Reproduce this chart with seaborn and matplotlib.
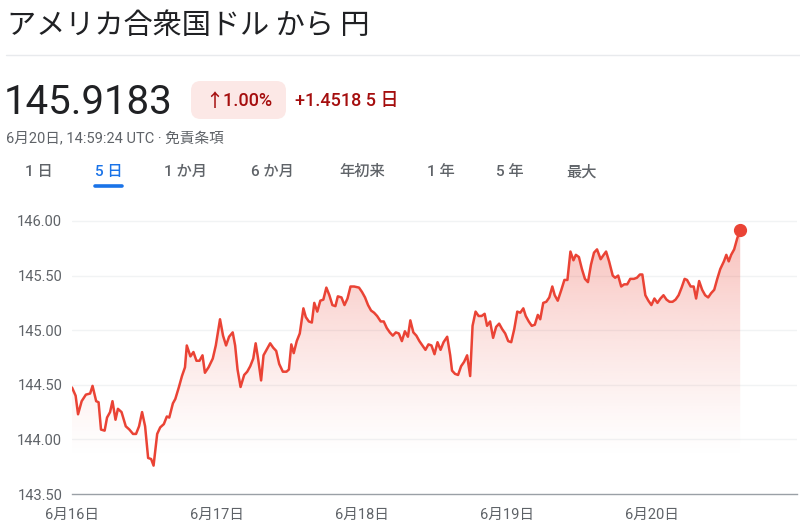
import numpy as np
import pandas as pd
import matplotlib
matplotlib.use("Agg")
import matplotlib.pyplot as plt
import seaborn as sns
from matplotlib.patches import FancyBboxPatch, PathPatch
from matplotlib.lines import Line2D

# hours since 6/16 00:00 and USD/JPY rate
hours = [0.0, 0.6, 1.0, 1.6, 2.3, 3.0, 3.4, 4.0, 4.4, 4.8, 5.4, 5.8, 6.3, 6.7, 7.2,
         7.6, 8.2, 8.9, 9.5, 10.1, 10.6, 11.1, 11.6, 12.1, 12.6, 13.1, 13.5, 14.1,
         14.6, 15.2, 15.7, 16.1, 16.7, 17.1, 17.7, 18.2, 18.7, 19.0, 19.6, 20.1,
         20.6, 21.1, 21.6, 22.0, 22.6, 23.3, 23.8, 24.5, 25.0, 25.5, 26.0, 26.6,
         27.0, 27.4, 27.9, 28.5, 29.0, 29.5, 30.0, 30.4, 30.8, 31.3, 31.7, 32.3,
         32.8, 33.3, 33.8, 34.3, 34.9, 35.5, 35.9, 36.3, 36.7, 37.2, 37.7, 38.3,
         38.7, 39.2, 39.7, 40.1, 40.6, 41.1, 41.6, 42.1, 42.6, 43.1, 43.6, 44.0,
         44.6, 45.1, 45.6, 46.1, 46.7, 47.5, 48.0, 48.5, 49.0, 49.5, 50.0, 50.5,
         51.1, 51.6, 52.1, 52.6, 53.1, 53.6, 54.1, 54.6, 55.1, 55.6, 56.0, 56.5,
         57.0, 57.5, 58.0, 58.5, 59.0, 59.5, 60.0, 60.5, 61.0, 61.5, 62.1, 62.6,
         62.9, 63.4, 63.9, 64.4, 64.9, 65.4, 65.9, 66.3, 66.8, 67.3, 67.8, 68.3,
         68.7, 69.2, 69.7, 70.2, 70.7, 71.2, 71.7, 72.2, 72.7, 73.2, 73.7, 74.2,
         74.7, 75.1, 75.6, 76.1, 76.6, 77.1, 77.5, 78.0, 78.5, 79.0, 79.5, 79.9,
         80.4, 81.0, 81.5, 82.0, 82.5, 83.0, 83.4, 83.9, 84.4, 84.9, 85.4, 85.9,
         86.4, 86.9, 87.5, 88.0, 88.4, 88.9, 89.5, 89.9, 90.4, 90.9, 91.4, 91.9,
         92.4, 93.0, 93.5, 94.0, 94.4, 94.9, 95.4, 95.9, 96.4, 96.9, 97.4, 97.9,
         98.4, 98.9, 99.4, 99.9, 100.4, 100.9, 101.4, 101.8, 102.4, 102.9, 103.3,
         103.8, 104.3, 104.8, 105.3, 105.8, 106.3, 106.8, 107.3, 107.9, 108.3,
         108.7, 109.1, 109.6, 110.1, 110.6]
rate = [144.475, 144.40, 144.23, 144.35, 144.41, 144.42, 144.49, 144.35, 144.34,
        144.09, 144.08, 144.20, 144.25, 144.35, 144.18, 144.28, 144.25, 144.12,
        144.09, 144.05, 144.05, 144.12, 144.25, 144.12, 143.83, 143.82, 143.76,
        144.05, 144.11, 144.14, 144.21, 144.20, 144.33, 144.37, 144.48, 144.58,
        144.66, 144.86, 144.76, 144.80, 144.72, 144.72, 144.77, 144.61, 144.66,
        144.74, 144.86, 145.10, 144.95, 144.86, 144.94, 144.98, 144.86, 144.64,
        144.48, 144.59, 144.62, 144.67, 144.74, 144.88, 144.74, 144.54, 144.77,
        144.83, 144.88, 144.84, 144.81, 144.69, 144.62, 144.62, 144.64, 144.87,
        144.79, 144.90, 144.97, 145.20, 145.12, 145.08, 145.07, 145.25, 145.17,
        145.27, 145.28, 145.39, 145.32, 145.23, 145.22, 145.31, 145.30, 145.23,
        145.29, 145.40, 145.40, 145.39, 145.35, 145.30, 145.23, 145.18, 145.16,
        145.13, 145.08, 145.08, 145.02, 144.98, 144.95, 144.98, 144.97, 144.90,
        144.99, 144.94, 145.09, 144.98, 144.95, 144.90, 144.86, 144.82, 144.87,
        144.86, 144.78, 144.89, 144.82, 144.89, 144.94, 144.77, 144.63, 144.60,
        144.59, 144.67, 144.71, 144.77, 144.58, 145.04, 145.17, 145.13, 145.13,
        145.15, 145.04, 145.08, 144.93, 145.03, 145.06, 145.01, 144.97, 144.90,
        144.89, 145.01, 145.17, 145.16, 145.20, 145.13, 145.08, 145.04, 145.05,
        145.14, 145.10, 145.25, 145.26, 145.30, 145.40, 145.32, 145.27, 145.37,
        145.46, 145.46, 145.72, 145.64, 145.69, 145.67, 145.56, 145.47, 145.44,
        145.60, 145.71, 145.74, 145.65, 145.69, 145.72, 145.63, 145.50, 145.48,
        145.50, 145.40, 145.42, 145.42, 145.47, 145.47, 145.48, 145.51, 145.51,
        145.32, 145.27, 145.23, 145.29, 145.25, 145.29, 145.32, 145.28, 145.26,
        145.26, 145.28, 145.32, 145.39, 145.47, 145.46, 145.40, 145.40, 145.29,
        145.45, 145.37, 145.32, 145.30, 145.34, 145.37, 145.47, 145.56, 145.63,
        145.69, 145.63, 145.69, 145.74, 145.84, 145.9183]

day_ticks = [0, 24, 48, 72, 96]
day_labels = ["6月16日", "6月17日", "6月18日", "6月19日", "6月20日"]
y_ticks = [143.5, 144.0, 144.5, 145.0, 145.5, 146.0]
tabs = ["1 日", "5 日", "1 か月", "6 か月", "年初来", "1 年", "5 年", "最大"]
tab_x = [39, 109, 186, 272, 362, 441, 510, 582]

RED = "#ea4335"
FONTS = ["Roboto", "Noto Sans CJK JP", "DejaVu Sans"]

sns.set_theme(style="white")
plt.rcParams["font.family"] = FONTS

W, H = 800, 527
fig = plt.figure(figsize=(W / 100, H / 100), dpi=100)


def px(x, y):
    return x / W, 1 - y / H


# header
fig.text(*px(7, 26), "アメリカ合衆国ドル から 円", fontsize=21, color="#202124",
         va="center", ha="left", family=["Noto Sans CJK JP", "DejaVu Sans"])
fig.add_artist(Line2D([6 / W, 1], [1 - 55 / H] * 2, color="#e8eaed", lw=1))
fig.text(*px(4, 102), "145.9183", fontsize=29, color="#202124", va="center", ha="left")

box = FancyBboxPatch(px(191, 119), 95 / W, 38 / H,
                     boxstyle="round,pad=0,rounding_size=0.012",
                     transform=fig.transFigure, facecolor="#fce8e6",
                     edgecolor="none", mutation_aspect=W / H)
fig.add_artist(box)
fig.text(*px(239, 101), "↑1.00%", fontsize=13, color="#a50e0e", va="center",
         ha="center", weight="medium")
fig.text(*px(295, 101), "+1.4518 5 日", fontsize=13, color="#a50e0e", va="center",
         ha="left", weight="medium")
fig.text(*px(6, 139), "6月20日, 14:59:24 UTC · 免責条項", fontsize=10.5,
         color="#5f6368", va="center", ha="left")

for label, x in zip(tabs, tab_x):
    c = "#1a73e8" if label == "5 日" else "#5f6368"
    fig.text(*px(x, 172), label, fontsize=11, color=c, va="center", ha="center",
             weight="medium")
fig.add_artist(Line2D([95 / W, 122 / W], [1 - 186 / H] * 2, color="#1a73e8",
                      lw=2.6, solid_capstyle="round"))

# chart
ax = fig.add_axes([72 / W, 1 - 494 / H, 725 / W, (494 - 204.6) / H])
df = pd.DataFrame({"hours": hours, "rate": rate})
sns.lineplot(data=df, x="hours", y="rate", ax=ax, color=RED, lw=1.8, zorder=3)
ax.plot(hours[-1], rate[-1], "o", color=RED, ms=8.5, zorder=4)

# gradient fill under the line
poly = ax.fill_between(hours, rate, 143.5, color="none", lw=0)
clip = PathPatch(poly.get_paths()[0], transform=ax.transData,
                 facecolor="none", edgecolor="none")
ax.add_patch(clip)
yy = np.linspace(143.5, 146.0, 300)
alpha = 0.34 * np.clip((yy - 143.8) / (145.95 - 143.8), 0, 1) ** 1.3
grad = np.zeros((len(yy), 1, 4))
grad[..., 0], grad[..., 1], grad[..., 2] = 234 / 255, 67 / 255, 53 / 255
grad[:, 0, 3] = alpha
img = ax.imshow(grad, extent=[0, hours[-1], 143.5, 146.0], origin="lower",
                aspect="auto", zorder=2, interpolation="bilinear")
img.set_clip_path(clip)

ax.set_xlim(0, 120)
ax.set_ylim(143.5, 146.15)
ax.set_xticks(day_ticks)
ax.set_xticklabels(day_labels)
ax.set_yticks(y_ticks)
ax.set_yticklabels([f"{v:.2f}" for v in y_ticks])
ax.set_xlabel("")
ax.set_ylabel("")
for v in y_ticks[1:]:
    ax.axhline(v, color="#f1f3f4", lw=1, zorder=1)
for s in ["top", "right", "left"]:
    ax.spines[s].set_visible(False)
ax.spines["bottom"].set_color("#9aa0a6")
ax.spines["bottom"].set_linewidth(1)
ax.tick_params(axis="y", length=0, pad=7, labelsize=10.5, labelcolor="#5f6368")
ax.tick_params(axis="x", length=4, width=1.6, color="#5f6368", pad=6,
               labelsize=10.5, labelcolor="#5f6368")
ax.set_facecolor("white")

fig.savefig("out.png", dpi=100)
